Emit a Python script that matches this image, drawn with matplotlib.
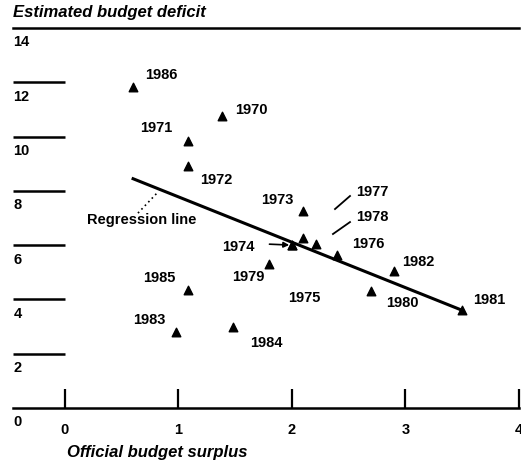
import matplotlib
matplotlib.use("Agg")
import matplotlib.pyplot as plt

# ---- data ----
years = [1970, 1971, 1972, 1973, 1974, 1975, 1976, 1977, 1978, 1979,
         1980, 1981, 1982, 1983, 1984, 1985, 1986]
surplus = [1.38, 1.08, 1.08, 2.10, 2.00, 2.00, 2.40, 2.10, 2.21, 1.80,
           2.70, 3.50, 2.90, 0.98, 1.48, 1.08, 0.60]
deficit = [10.77, 9.85, 8.90, 7.24, 6.00, 6.00, 5.62, 6.25, 6.03, 5.30,
           4.30, 3.60, 5.04, 2.80, 3.00, 4.33, 11.84]
reg_x = [0.60, 3.50]
reg_intercept = 9.45
reg_slope = -1.672
x_ticks = [0, 1, 2, 3, 4]
y_ticks = [0, 2, 4, 6, 8, 10, 12, 14]

# label positions (data coords) for each year
label_pos = {
    1986: (0.705, 12.27), 1970: (1.50, 10.98), 1971: (0.661, 10.32),
    1972: (1.189, 8.40), 1973: (1.727, 7.66), 1977: (2.564, 7.96),
    1978: (2.564, 7.04), 1974: (1.383, 5.93), 1976: (2.529, 6.04),
    1982: (2.969, 5.38), 1975: (1.965, 4.05), 1980: (2.828, 3.87),
    1981: (3.595, 3.98), 1979: (1.471, 4.83), 1985: (0.687, 4.79),
    1983: (0.599, 3.24), 1984: (1.630, 2.39),
}

plt.rcParams['font.family'] = ['Liberation Sans', 'DejaVu Sans']

fig = plt.figure(figsize=(5.21, 4.69), dpi=100)
ax = fig.add_axes([13/521, 61/469, 506/521, 380/469])
xmin, xmax = -0.458, 4.0
ax.set_xlim(xmin, xmax)
ax.set_ylim(0, 14)

for s in ['left', 'right']:
    ax.spines[s].set_visible(False)
ax.spines['bottom'].set_linewidth(1.8)
ax.spines['top'].set_linewidth(1.8)

FS = 10.5
ax.set_yticks([])
ax.set_xticks(x_ticks)
ax.set_xticklabels([str(t) for t in x_ticks], fontsize=FS, fontweight='bold')
ax.tick_params(axis='x', direction='in', length=13.5, width=1.6, pad=11, top=False)

# y "ticks": short horizontal lines left of x=0
for yt in y_ticks:
    if 0 < yt < 14:
        ax.hlines(yt, xmin, 0, color='black', lw=1.8)
    ax.text(xmin + 0.005, yt - 0.53, str(yt), fontsize=FS, fontweight='bold',
            ha='left', va='center', clip_on=False)

# points
ax.scatter(surplus, deficit, marker='^', s=38, color='black', zorder=3, clip_on=False)

# regression line
reg_y = [reg_intercept + reg_slope * x for x in reg_x]
ax.plot(reg_x, reg_y, color='black', lw=2.2, zorder=2)

for yr in years:
    lx, ly = label_pos[yr]
    ax.text(lx, ly, str(yr), fontsize=FS, fontweight='bold', ha='left', va='center')

# leader lines
ax.annotate('', xy=(2.0, 6.0), xytext=(1.777, 6.04),
            arrowprops=dict(arrowstyle='-|>', color='black', lw=1.2, mutation_scale=8))
ax.plot([2.379, 2.511], [7.33, 7.81], color='black', lw=1.3)
ax.plot([2.361, 2.511], [6.41, 6.85], color='black', lw=1.3)
ax.plot([0.643, 0.811], [7.18, 7.92], color='black', lw=1.2, ls=(0, (1, 2)))
ax.text(0.194, 6.93, 'Regression line', fontsize=FS, fontweight='bold', ha='left', va='center')

fig.text(13/521, 1 - 13/469, 'Estimated budget deficit', fontsize=12, fontweight='bold',
         style='italic', ha='left', va='center')
fig.text(67/521, 1 - 452/469, 'Official budget surplus', fontsize=12, fontweight='bold',
         style='italic', ha='left', va='center')

fig.savefig('out.png', dpi=100)
